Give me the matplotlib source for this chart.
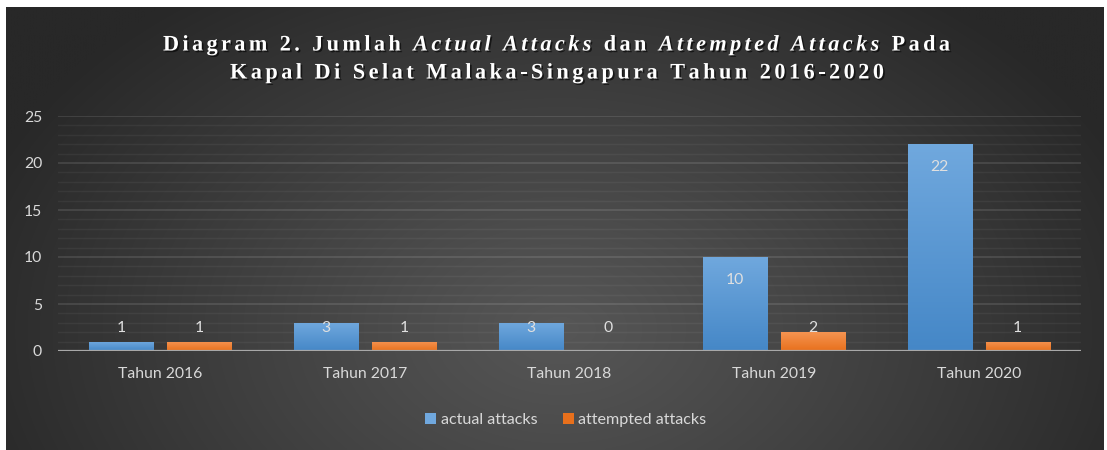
import numpy as np
import matplotlib
matplotlib.use("Agg")
import matplotlib.pyplot as plt
from matplotlib.patches import Patch
from matplotlib import font_manager
from matplotlib.ft2font import FT2Font
import matplotlib.patheffects as pe

# ---- data ----
categories = ["Tahun 2016", "Tahun 2017", "Tahun 2018", "Tahun 2019", "Tahun 2020"]
actual_attacks = [1, 3, 3, 10, 22]
attempted_attacks = [1, 1, 0, 2, 1]
series_names = ["actual attacks", "attempted attacks"]
y_ticks = [0, 5, 10, 15, 20, 25]

W, H = 1107, 450
DPI = 100
fig = plt.figure(figsize=(W / DPI, H / DPI), dpi=DPI, facecolor="white")

# ---- background radial gradient panel ----
bg = fig.add_axes([0, 0, 1, 1], zorder=-10)
bg.set_axis_off()
bg.set_xlim(0, W)
bg.set_ylim(H, 0)
px0, px1, py0, py1 = 6, 1104, 7, 450
nx, ny = 400, 180
gx = np.linspace(px0, px1, nx)
gy = np.linspace(py0, py1, ny)
X, Y = np.meshgrid(gx, gy)
cx, cy = 560, 330
d = np.sqrt(((X - cx) / 620) ** 2 + ((Y - cy) / 420) ** 2)
d = np.clip(d, 0, 1) ** 1.1
c_in, c_out = 86 / 255, 40 / 255
v = c_in + (c_out - c_in) * d
img = np.dstack([v, v, v])
bg.imshow(img, extent=[px0, px1, py1, py0], aspect="auto", interpolation="bilinear")

# ---- main axes ----
left, right = 58 / W, 1081 / W
bottom, top = 1 - 351 / H, 1 - 116 / H
ax = fig.add_axes([left, bottom, right - left, top - bottom])
ax.set_facecolor("none")
for s in ax.spines.values():
    s.set_visible(False)
ax.set_xlim(-0.5, len(categories) - 0.5)
ax.set_ylim(0, 25)

# gridlines
for yv in range(1, 26):
    if yv % 5 == 0:
        ax.axhline(yv, color="white", alpha=0.11, lw=1.4, zorder=1)
    else:
        ax.axhline(yv, color="white", alpha=0.05, lw=1.0, zorder=1)
ax.axhline(0, color="#a8a8a8", lw=1.6, zorder=5)

tick_color = "#d9d9d9"
ax.set_yticks(y_ticks)
ax.set_yticklabels([str(t) for t in y_ticks], fontsize=11.3, color=tick_color, family="Lato")
ax.set_xticks(range(len(categories)))
ax.set_xticklabels(categories, fontsize=11.3, color=tick_color, family="Lato")
ax.tick_params(axis="both", length=0)
ax.tick_params(axis="y", pad=11.5)
ax.tick_params(axis="x", pad=11.5)

bw = 0.313
off = 0.19
x = np.arange(len(categories))


def grad_bars(xs, vals, top_rgb, bot_rgb, label):
    bars = ax.bar(xs, vals, width=bw, color=top_rgb, zorder=3, label=label, lw=0)
    g = np.linspace(0, 1, 256)[:, None]
    t = np.array(top_rgb)
    b = np.array(bot_rgb)
    cols = t[None, None, :] * (1 - g[:, :, None]) + b[None, None, :] * g[:, :, None]
    for bar in bars:
        h = bar.get_height()
        if h <= 0:
            continue
        x0 = bar.get_x()
        im = ax.imshow(cols, extent=[x0, x0 + bar.get_width(), 0, h], aspect="auto",
                       zorder=4, interpolation="bilinear", origin="upper")
        im.set_clip_path(bar)
    return bars


blue_top = (0.44, 0.66, 0.87)
blue_bot = (0.27, 0.53, 0.78)
orange_top = (0.96, 0.58, 0.32)
orange_bot = (0.91, 0.44, 0.11)
b1 = grad_bars(x - off, actual_attacks, blue_top, blue_bot, series_names[0])
b2 = grad_bars(x + off, attempted_attacks, orange_top, orange_bot, series_names[1])
ax.set_xlim(-0.5, len(categories) - 0.5)
ax.set_ylim(0, 25)

label_color = "#e0e0e0"
for xs, vals in [(x - off, actual_attacks), (x + off, attempted_attacks)]:
    for xi, vv in zip(xs, vals):
        ly = max(vv - 2.45, 2.4)
        ax.text(xi, ly, str(vv), ha="center", va="center", fontsize=11.3,
                color=label_color, family="Lato", zorder=6)

# ---- legend ----
handles = [Patch(facecolor=blue_top, edgecolor="none"), Patch(facecolor=orange_bot, edgecolor="none")]
leg = fig.legend(handles, series_names, loc="center", bbox_to_anchor=(566 / W, 1 - 420 / H),
                 ncol=2, frameon=False, handlelength=0.65, handleheight=0.65,
                 handletextpad=0.3, columnspacing=1.6, prop={"family": "Lato", "size": 11.6})
for t in leg.get_texts():
    t.set_color(tick_color)

# ---- title with letter spacing ----
fig.canvas.draw()


def font_for(weight, style):
    fp = font_manager.FontProperties(family="Liberation Serif", weight=weight, style=style)
    return fp, FT2Font(font_manager.findfont(fp))


title_lines = [
    [("Diagram 2. Jumlah ", "normal"), ("Actual Attacks", "italic"), (" dan ", "normal"),
     ("Attempted Attacks", "italic"), (" Pada", "normal")],
    [("Kapal Di Selat Malaka-Singapura Tahun 2016-2020", "normal")],
]
line_specs = [(163, 950, 43), (230, 884, 71)]
fs_pt = 16
shadow = [pe.withSimplePatchShadow(offset=(1.2, -1.2), shadow_rgbFace="black", alpha=0.6)]

for segs, (xa, xb, yc) in zip(title_lines, line_specs):
    chars = []
    for text, style in segs:
        fp, ft = font_for("bold", style)
        ft.set_size(fs_pt, DPI)
        for ch in text:
            g = ft.load_char(ord(ch))
            adv = g.linearHoriAdvance / 65536.0
            chars.append((ch, fp, adv))
    natural = sum(c[2] for c in chars)
    target = xb - xa
    n = len(chars)
    sp = (target - natural) / (n - 1)
    xpos = xa
    for ch, fp, adv in chars:
        if ch != " ":
            fig.text(xpos / W, 1 - yc / H, ch, fontproperties=fp, fontsize=fs_pt,
                     color="white", ha="left", va="center_baseline", path_effects=shadow)
        xpos += adv + sp

fig.savefig("out.png", dpi=DPI, facecolor="white")
